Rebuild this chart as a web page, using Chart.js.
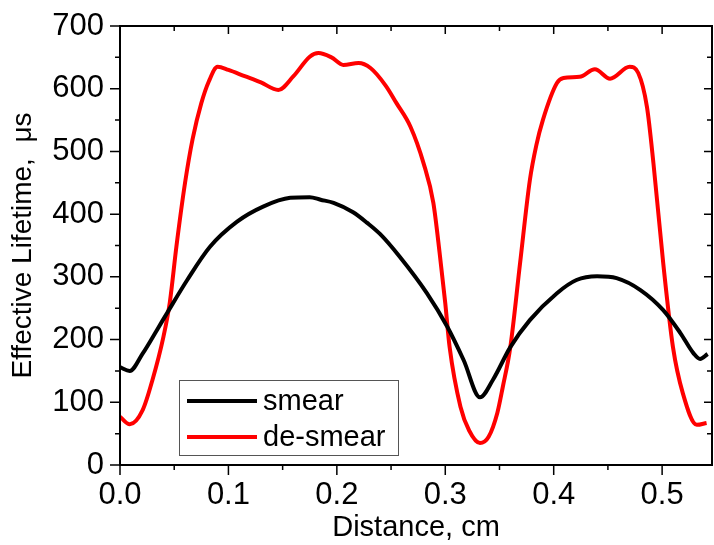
<!DOCTYPE html>
<html>
<head>
<meta charset="utf-8">
<script src="https://cdn.jsdelivr.net/npm/chart.js@4.4.0/dist/chart.umd.min.js"></script>
<style>
  html, body { margin: 0; padding: 0; background: #fff; }
  #wrap { width: 714px; height: 545px; }
</style>
</head>
<body>
<div id="wrap"><canvas id="chart" width="714" height="545"></canvas></div>
<script>
// values
const smearX = [0.000, 0.009, 0.021, 0.034, 0.044, 0.062, 0.083, 0.108, 0.132, 0.157, 0.175, 0.185, 0.197, 0.215, 0.228, 0.240, 0.258, 0.283, 0.302, 0.317, 0.332, 0.344, 0.360, 0.378, 0.403, 0.421, 0.440, 0.458, 0.480, 0.501, 0.517, 0.529, 0.535, 0.542];
const smearY = [156, 150, 178, 215, 244, 295, 348, 388, 412, 426, 427, 423, 418, 403, 386, 368, 332, 274, 220, 167, 108, 136, 188, 231, 274, 295, 301, 298, 279, 247, 210, 178, 169, 177];

const desmearX = [0.000, 0.009, 0.021, 0.030, 0.040, 0.046, 0.052, 0.060, 0.067, 0.075, 0.082, 0.090, 0.100, 0.115, 0.130, 0.146, 0.160, 0.175, 0.183, 0.195, 0.206, 0.220, 0.231, 0.245, 0.255, 0.268, 0.280, 0.289, 0.295, 0.300, 0.304, 0.314, 0.322, 0.332, 0.340, 0.348, 0.353, 0.360, 0.369, 0.378, 0.384, 0.390, 0.403, 0.409, 0.424, 0.438, 0.452, 0.470, 0.478, 0.486, 0.492, 0.501, 0.510, 0.519, 0.532, 0.541];
const desmearY = [77, 65, 88, 136, 204, 260, 348, 450, 520, 577, 612, 635, 630, 620, 610, 598, 620, 651, 657, 650, 638, 641, 633, 605, 577, 539, 481, 418, 335, 258, 188, 93, 55, 35, 45, 83, 124, 188, 322, 454, 510, 550, 609, 617, 619, 631, 616, 635, 625, 571, 481, 322, 188, 115, 64, 67];

const xTicks = [0.0, 0.1, 0.2, 0.3, 0.4, 0.5];
const yTicks = [0, 100, 200, 300, 400, 500, 600, 700];
const xMax = 0.546;

const FONT = "'Liberation Sans', Arial, sans-serif";

const frameTicks = {
  id: 'frameTicks',
  afterDraw(chart) {
    const { ctx, chartArea: a, scales: { x, y } } = chart;
    ctx.save();
    ctx.strokeStyle = '#000';
    ctx.lineWidth = 2;
    ctx.strokeRect(a.left, a.top, a.right - a.left, a.bottom - a.top);
    ctx.lineWidth = 1.5;
    ctx.beginPath();
    for (let i = 0; i <= 11; i++) {
      const v = i * 0.05;
      if (v > xMax) break;
      const px = x.getPixelForValue(v);
      const major = i % 2 === 0;
      ctx.moveTo(px, a.bottom); ctx.lineTo(px, a.bottom + (major ? 10 : 5));
      ctx.moveTo(px, a.top); ctx.lineTo(px, a.top + (major ? 8 : 5));
    }
    for (let i = 0; i <= 14; i++) {
      const py = y.getPixelForValue(i * 50);
      const major = i % 2 === 0;
      ctx.moveTo(a.left, py); ctx.lineTo(a.left - (major ? 10 : 5), py);
      ctx.moveTo(a.right, py); ctx.lineTo(a.right - (major ? 8 : 5), py);
    }
    ctx.stroke();

    // legend box inside the plot
    const bx = a.left + 59, by = a.bottom - 85, bw = 219, bh = 75;
    ctx.fillStyle = '#fff';
    ctx.fillRect(bx, by, bw, bh);
    ctx.strokeStyle = '#555';
    ctx.lineWidth = 1;
    ctx.strokeRect(bx + 0.5, by + 0.5, bw, bh);
    ctx.font = '29px ' + FONT;
    ctx.textBaseline = 'middle';
    chart.data.datasets.forEach((ds, i) => {
      const ly = by + 21 + i * 36;
      ctx.strokeStyle = ds.borderColor;
      ctx.lineWidth = 4;
      ctx.beginPath();
      ctx.moveTo(bx + 8, ly); ctx.lineTo(bx + 78, ly);
      ctx.stroke();
      ctx.fillStyle = '#000';
      ctx.fillText(ds.label, bx + 84, ly + 1);
    });
    ctx.restore();
  }
};

new Chart(document.getElementById('chart'), {
  type: 'line',
  data: {
    datasets: [
      {
        label: 'smear',
        data: smearX.map((v, i) => ({ x: v, y: smearY[i] })),
        borderColor: '#000000',
        borderWidth: 4,
        pointRadius: 0,
        cubicInterpolationMode: 'monotone'
      },
      {
        label: 'de-smear',
        data: desmearX.map((v, i) => ({ x: v, y: desmearY[i] })),
        borderColor: '#ff0000',
        borderWidth: 4,
        pointRadius: 0,
        cubicInterpolationMode: 'monotone'
      }
    ]
  },
  options: {
    responsive: false,
    animation: false,
    layout: { padding: { top: 26, right: 2, left: 0, bottom: 0 } },
    plugins: { legend: { display: false }, tooltip: { enabled: false } },
    scales: {
      x: {
        type: 'linear',
        min: 0,
        max: xMax,
        afterBuildTicks: s => { s.ticks = xTicks.map(v => ({ value: v })); },
        afterFit: s => { s.height = 80; s.paddingLeft = 0; s.paddingRight = 0; },
        grid: { display: false, drawTicks: false },
        border: { display: false },
        ticks: {
          color: '#000',
          padding: 12,
          maxRotation: 0,
          font: { family: FONT, size: 31 },
          callback: v => v.toFixed(1)
        },
        title: {
          display: true,
          text: 'Distance, cm',
          color: '#000',
          font: { family: FONT, size: 29 },
          padding: { top: 0, bottom: 0 }
        }
      },
      y: {
        min: 0,
        max: 700,
        afterBuildTicks: s => { s.ticks = yTicks.map(v => ({ value: v })); },
        afterFit: s => { s.width = 120; s.paddingTop = 0; s.paddingBottom = 0; },
        grid: { display: false, drawTicks: false },
        border: { display: false },
        ticks: {
          color: '#000',
          padding: 16,
          font: { family: FONT, size: 31 }
        },
        title: {
          display: true,
          text: 'Effective Lifetime,  μs',
          color: '#000',
          font: { family: FONT, size: 28 },
          padding: { top: 6, bottom: 0 }
        }
      }
    }
  },
  plugins: [frameTicks]
});
</script>
</body>
</html>
